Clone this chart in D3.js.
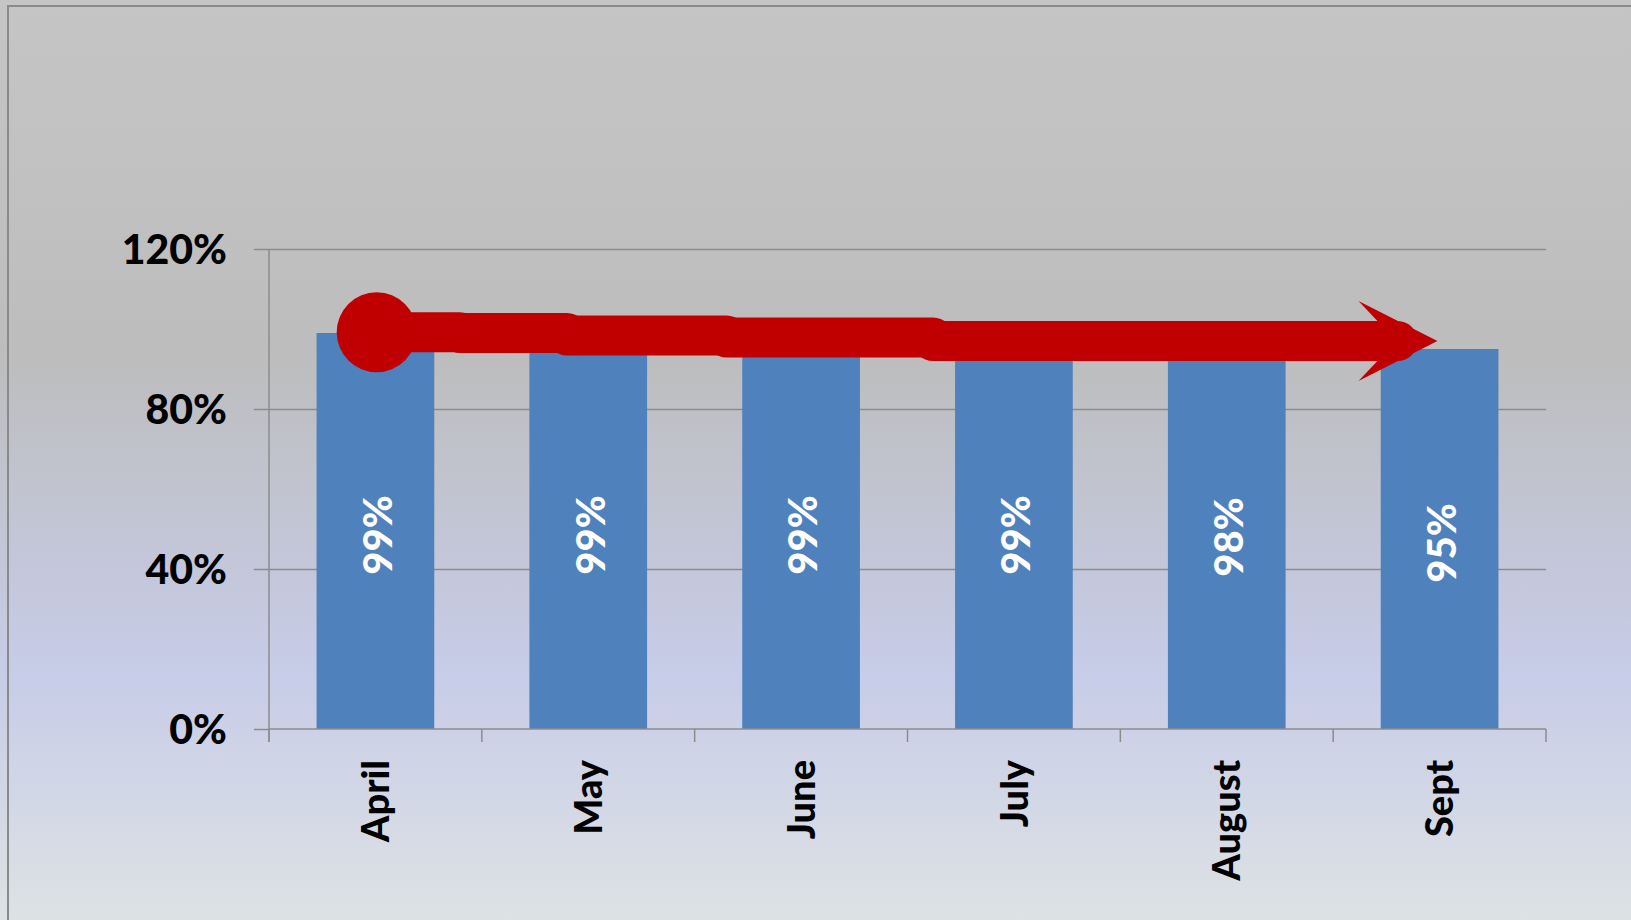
<!DOCTYPE html>
<html>
<head>
<meta charset="utf-8">
<script src="https://cdn.jsdelivr.net/npm/d3@7"></script>
<style>
  html, body { margin: 0; padding: 0; overflow: hidden; }
  svg { display: block; }
  text { font-family: Lato, "Open Sans", sans-serif; font-weight: bold; }
</style>
</head>
<body>
<div id="chart"></div>
<script>
// data
const months = ['April', 'May', 'June', 'July', 'August', 'Sept'];
const values = [99, 99, 99, 99, 98, 95];
const yTicks = [0, 40, 80, 120];

// hand drawn trend arrow: x in category units, one value per segment
const trendPos = [0.506, 0.898, 1.40, 2.15, 3.12, 5.49];
const trendVal = [99.2, 99.0, 98.4, 97.9, 97.0];

const width = 1631;
const height = 920;
const margin = { top: 249, right: 85, bottom: 191, left: 269 };

const svg = d3.select('#chart').append('svg')
  .attr('width', width)
  .attr('height', height);

// background gradient
const grad = svg.append('defs').append('linearGradient')
  .attr('id', 'bg')
  .attr('x1', 0).attr('y1', 0).attr('x2', 0).attr('y2', 1);
[[0, '#c5c5c5'], [0.38, '#bdbdbd'], [0.73, '#c7cce8'], [1, '#dde2e4']].forEach(s => {
  grad.append('stop').attr('offset', s[0]).attr('stop-color', s[1]);
});

svg.append('rect')
  .attr('width', width).attr('height', height)
  .attr('fill', 'url(#bg)');

svg.append('rect')
  .attr('x', 8).attr('y', 6)
  .attr('width', width + 20).attr('height', height + 20)
  .attr('fill', 'none')
  .attr('stroke', '#8a8a8a')
  .attr('stroke-width', 2);

let x = d3.scaleBand()
  .domain(months)
  .range([margin.left, width - margin.right])
  .paddingInner(0.447)
  .paddingOuter(0.2235);

let y = d3.scaleLinear()
  .domain([0, 120])
  .range([height - margin.bottom, margin.top]);

let pos = d3.scaleLinear()
  .domain([0, months.length])
  .range(x.range());

// gridlines
svg.append('g')
  .attr('transform', `translate(${margin.left},0)`)
  .call(d3.axisLeft(y).tickValues(yTicks.filter(t => t > 0)).tickSize(-(x.range()[1] - x.range()[0])).tickFormat(''))
  .call(g => g.select('.domain').remove())
  .call(g => g.selectAll('line').attr('stroke', '#8c8c8c').attr('stroke-width', 1.5));

// y axis
svg.append('g')
  .attr('transform', `translate(${margin.left},0)`)
  .call(d3.axisLeft(y).tickValues(yTicks).tickSize(15).tickPadding(27).tickFormat(d => d + '%'))
  .call(g => g.select('.domain').attr('stroke', '#8c8c8c').attr('stroke-width', 1.5)
    .attr('d', `M0,${y(120)}V${y(0) + 13}`))
  .call(g => g.selectAll('line').attr('stroke', '#8c8c8c').attr('stroke-width', 1.5))
  .call(g => g.selectAll('text')
    .attr('fill', '#000')
    .style('font-size', '41px')
    .style('font-family', 'Lato, "Open Sans", sans-serif')
    .style('font-weight', '900')
    .attr('dy', '0.36em'));

// bars
svg.append('g').selectAll('rect')
  .data(values)
  .enter()
  .append('rect')
  .attr('x', (d, i) => x(months[i]))
  .attr('y', d => y(d))
  .attr('width', x.bandwidth())
  .attr('height', d => y(0) - y(d))
  .attr('fill', '#4f81bd');

// x axis line and boundary ticks
const xAxis = svg.append('g');
xAxis.append('line')
  .attr('x1', x.range()[0]).attr('x2', x.range()[1])
  .attr('y1', y(0)).attr('y2', y(0))
  .attr('stroke', '#8c8c8c').attr('stroke-width', 1.5);
xAxis.selectAll('line.tick')
  .data(d3.range(months.length + 1))
  .enter()
  .append('line')
  .attr('class', 'tick')
  .attr('x1', i => pos(i)).attr('x2', i => pos(i))
  .attr('y1', y(0)).attr('y2', y(0) + 13)
  .attr('stroke', '#8c8c8c').attr('stroke-width', 1.5);

// month labels
xAxis.selectAll('text')
  .data(months)
  .enter()
  .append('text')
  .attr('transform', d => `translate(${x(d) + x.bandwidth() / 2},${y(0) + 31}) rotate(-90)`)
  .attr('text-anchor', 'end')
  .attr('dy', '0.36em')
  .style('font-size', '38px')
  .style('font-weight', '900')
  .attr('fill', '#000')
  .text(d => d);

// value labels
svg.append('g').selectAll('text')
  .data(values)
  .enter()
  .append('text')
  .attr('transform', (d, i) => `translate(${x(months[i]) + x.bandwidth() / 2 + 2},${(y(d) + y(0)) / 2 + 4}) rotate(-90)`)
  .attr('text-anchor', 'middle')
  .attr('dy', '0.36em')
  .style('font-size', '40px')
  .style('font-weight', '900')
  .attr('fill', '#fff')
  .text(d => d + '%');

// trend arrow
const red = '#c00000';
const arrow = svg.append('g');
const last = trendPos.length - 1;
const segs = trendVal.map((v, i) => ({
  x1: pos(trendPos[i]),
  x2: i === trendVal.length - 1 ? pos(trendPos[last]) - 40 : pos(trendPos[i + 1]),
  y: y(v)
}));

arrow.selectAll('line')
  .data(segs)
  .enter()
  .append('line')
  .attr('x1', d => d.x1).attr('x2', d => d.x2)
  .attr('y1', d => d.y).attr('y2', d => d.y)
  .attr('stroke', red)
  .attr('stroke-width', 40)
  .attr('stroke-linecap', 'round');

arrow.append('circle')
  .attr('cx', pos(trendPos[0]))
  .attr('cy', y(trendVal[0]))
  .attr('r', 40)
  .attr('fill', red);

const tipX = pos(trendPos[last]);
const tipY = y(trendVal[trendVal.length - 1]);
arrow.append('path')
  .attr('d', `M${tipX},${tipY} L${tipX - 79},${tipY - 40} L${tipX - 60},${tipY - 20} L${tipX - 60},${tipY + 20} L${tipX - 79},${tipY + 40} Z`)
  .attr('fill', red);
</script>
</body>
</html>
